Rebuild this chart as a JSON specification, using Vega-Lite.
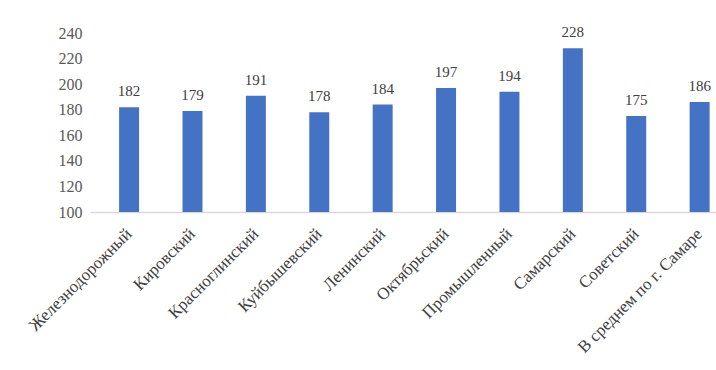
{
  "$schema": "https://vega.github.io/schema/vega-lite/v6.json",
  "autosize": "none",
  "width": 626,
  "height": 179,
  "padding": {"left": 90, "top": 33, "right": 0, "bottom": 158},
  "background": "white",
  "config": {"view": {"stroke": null}, "font": "Liberation Serif"},
  "data": {"values": [
    {"district": "Железнодорожный", "value": 182},
    {"district": "Кировский", "value": 179},
    {"district": "Красноглинский", "value": 191},
    {"district": "Куйбышевский", "value": 178},
    {"district": "Ленинский", "value": 184},
    {"district": "Октябрьский", "value": 197},
    {"district": "Промышленный", "value": 194},
    {"district": "Самарский", "value": 228},
    {"district": "Советский", "value": 175},
    {"district": "В среднем по г. Самаре", "value": 186}
  ]},
  "encoding": {
    "x": {"field": "district", "type": "nominal", "sort": null,
      "scale": {"paddingInner": 0.685, "paddingOuter": 0.28, "align": 0.82},
      "axis": {"title": null, "labelAngle": -45, "labelAlign": "right", "labelBaseline": "middle",
        "labelPadding": 19, "labelFontSize": 17, "labelColor": "#404040", "labelFont": "Liberation Serif",
        "ticks": false, "domainColor": "#d9d9d9", "domainWidth": 1.5, "labelOverlap": false, "labelLimit": 300}},
    "y": {"field": "value", "type": "quantitative",
      "scale": {"domain": [100, 240], "zero": false, "nice": false},
      "axis": {"title": null, "values": [100, 120, 140, 160, 180, 200, 220, 240], "grid": false, "domain": false, "ticks": false,
        "labelFontSize": 16, "labelColor": "#595959", "labelPadding": 8, "labelFont": "Liberation Serif"}}
  },
  "layer": [
    {"mark": {"type": "bar", "color": "#4472c4", "clip": true}},
    {"mark": {"type": "text", "baseline": "bottom", "dy": -8, "fontSize": 15, "color": "#404040", "font": "Liberation Serif"},
      "encoding": {"text": {"field": "value", "type": "quantitative"}}}
  ]
}
